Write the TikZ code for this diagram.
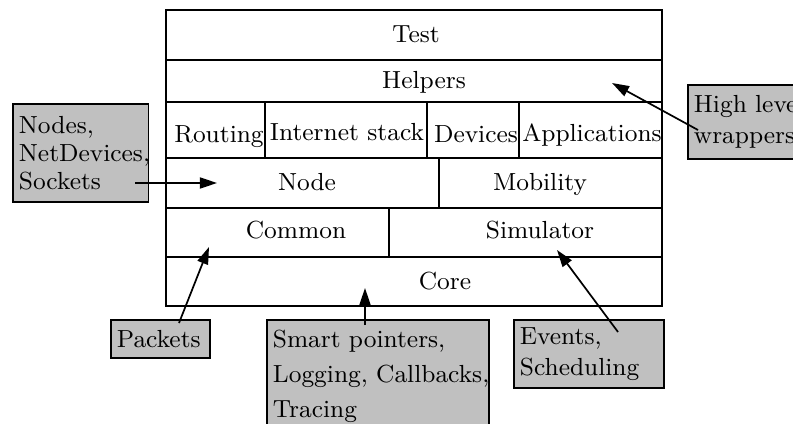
\documentclass[tikz,border=0pt]{standalone}
\usepackage{xcolor}
\usepackage{tikz}
\usetikzlibrary{arrows.meta}
\definecolor{notegray}{RGB}{192,192,192}

\begin{document}
\begin{tikzpicture}[x=0.38pt, y=-0.38pt, line width=0.65pt,
  every node/.style={font=\fontsize{9.4}{11.3}\selectfont}]
\tikzstyle{layertext}=[inner sep=0pt, anchor=base]
\tikzstyle{note}=[draw, fill=notegray, anchor=north west, align=left, inner xsep=2.3pt, inner ysep=0pt]
\tikzstyle{pointer}=[-{Triangle[length=6.5pt, width=4.2pt]}]

\useasboundingbox (0,0) rectangle (793,424);

% layers
\draw (166,10) rectangle (662,306);
\foreach \y in {60,102,158,208,257}
  \draw (166,\y) -- (662,\y);
\draw (265,102) -- (265,158) (427,102) -- (427,158) (519,102) -- (519,158);
\draw (439,158) -- (439,208) (389,208) -- (389,257);

\node[layertext] (test) at (416,43) {Test};
\node[layertext] (helpers) at (424,88) {Helpers};
\node[layertext] (routing) at (219,142) {Routing};
\node[layertext] (internet) at (347,140) {Internet stack};
\node[layertext] (devices) at (476,142) {Devices};
\node[layertext] (applications) at (592,141) {Applications};
\node[layertext] (node) at (307,190) {Node};
\node[layertext] (mobility) at (540,190) {Mobility};
\node[layertext] (common) at (296,238) {Common};
\node[layertext] (simulator) at (540,238) {Simulator};
\node[layertext] (core) at (445,289) {Core};

% notes
\node[note, text width=47pt, minimum height=37.2pt] (nodesnote) at (12,103)
  {Nodes,\\[-0.7pt] \mbox{NetDevices,}\\[-0.7pt] Sockets};
\node[note, text width=50pt, minimum height=28.1pt] (wrapnote) at (687,84)
  {\mbox{High level}\\[0.5pt] wrappers};
\node[note, text width=33pt, minimum height=14.4pt] (packetsnote) at (110,319)
  {Packets};
\node[note, text width=79.8pt, minimum height=42.6pt] (smartnote) at (266,319)
  {\mbox{Smart pointers,}\\[2pt] \mbox{Logging, Callbacks,}\\[2pt] Tracing};
\node[note, text width=52.4pt, minimum height=25.8pt] (eventsnote) at (513,319)
  {Events,\\[0.5pt] Scheduling};

\coordinate (nodesfrom) at (135,183);
\coordinate (nodesto) at (217,183);
\coordinate (wrapfrom) at (698,130);
\coordinate (wrapto) at (612,83);
\coordinate (packetsfrom) at (179,323);
\coordinate (packetsto) at (209,247);
\coordinate (smartfrom) at (365,325);
\coordinate (smartto) at (365,288);
\coordinate (eventsfrom) at (618,332);
\coordinate (eventsto) at (557,250);

\path
(nodesfrom) edge[pointer] (nodesto)
(wrapfrom) edge[pointer] (wrapto)
(packetsfrom) edge[pointer] (packetsto)
(smartfrom) edge[pointer] (smartto)
(eventsfrom) edge[pointer] (eventsto);

\end{tikzpicture}
\end{document}
